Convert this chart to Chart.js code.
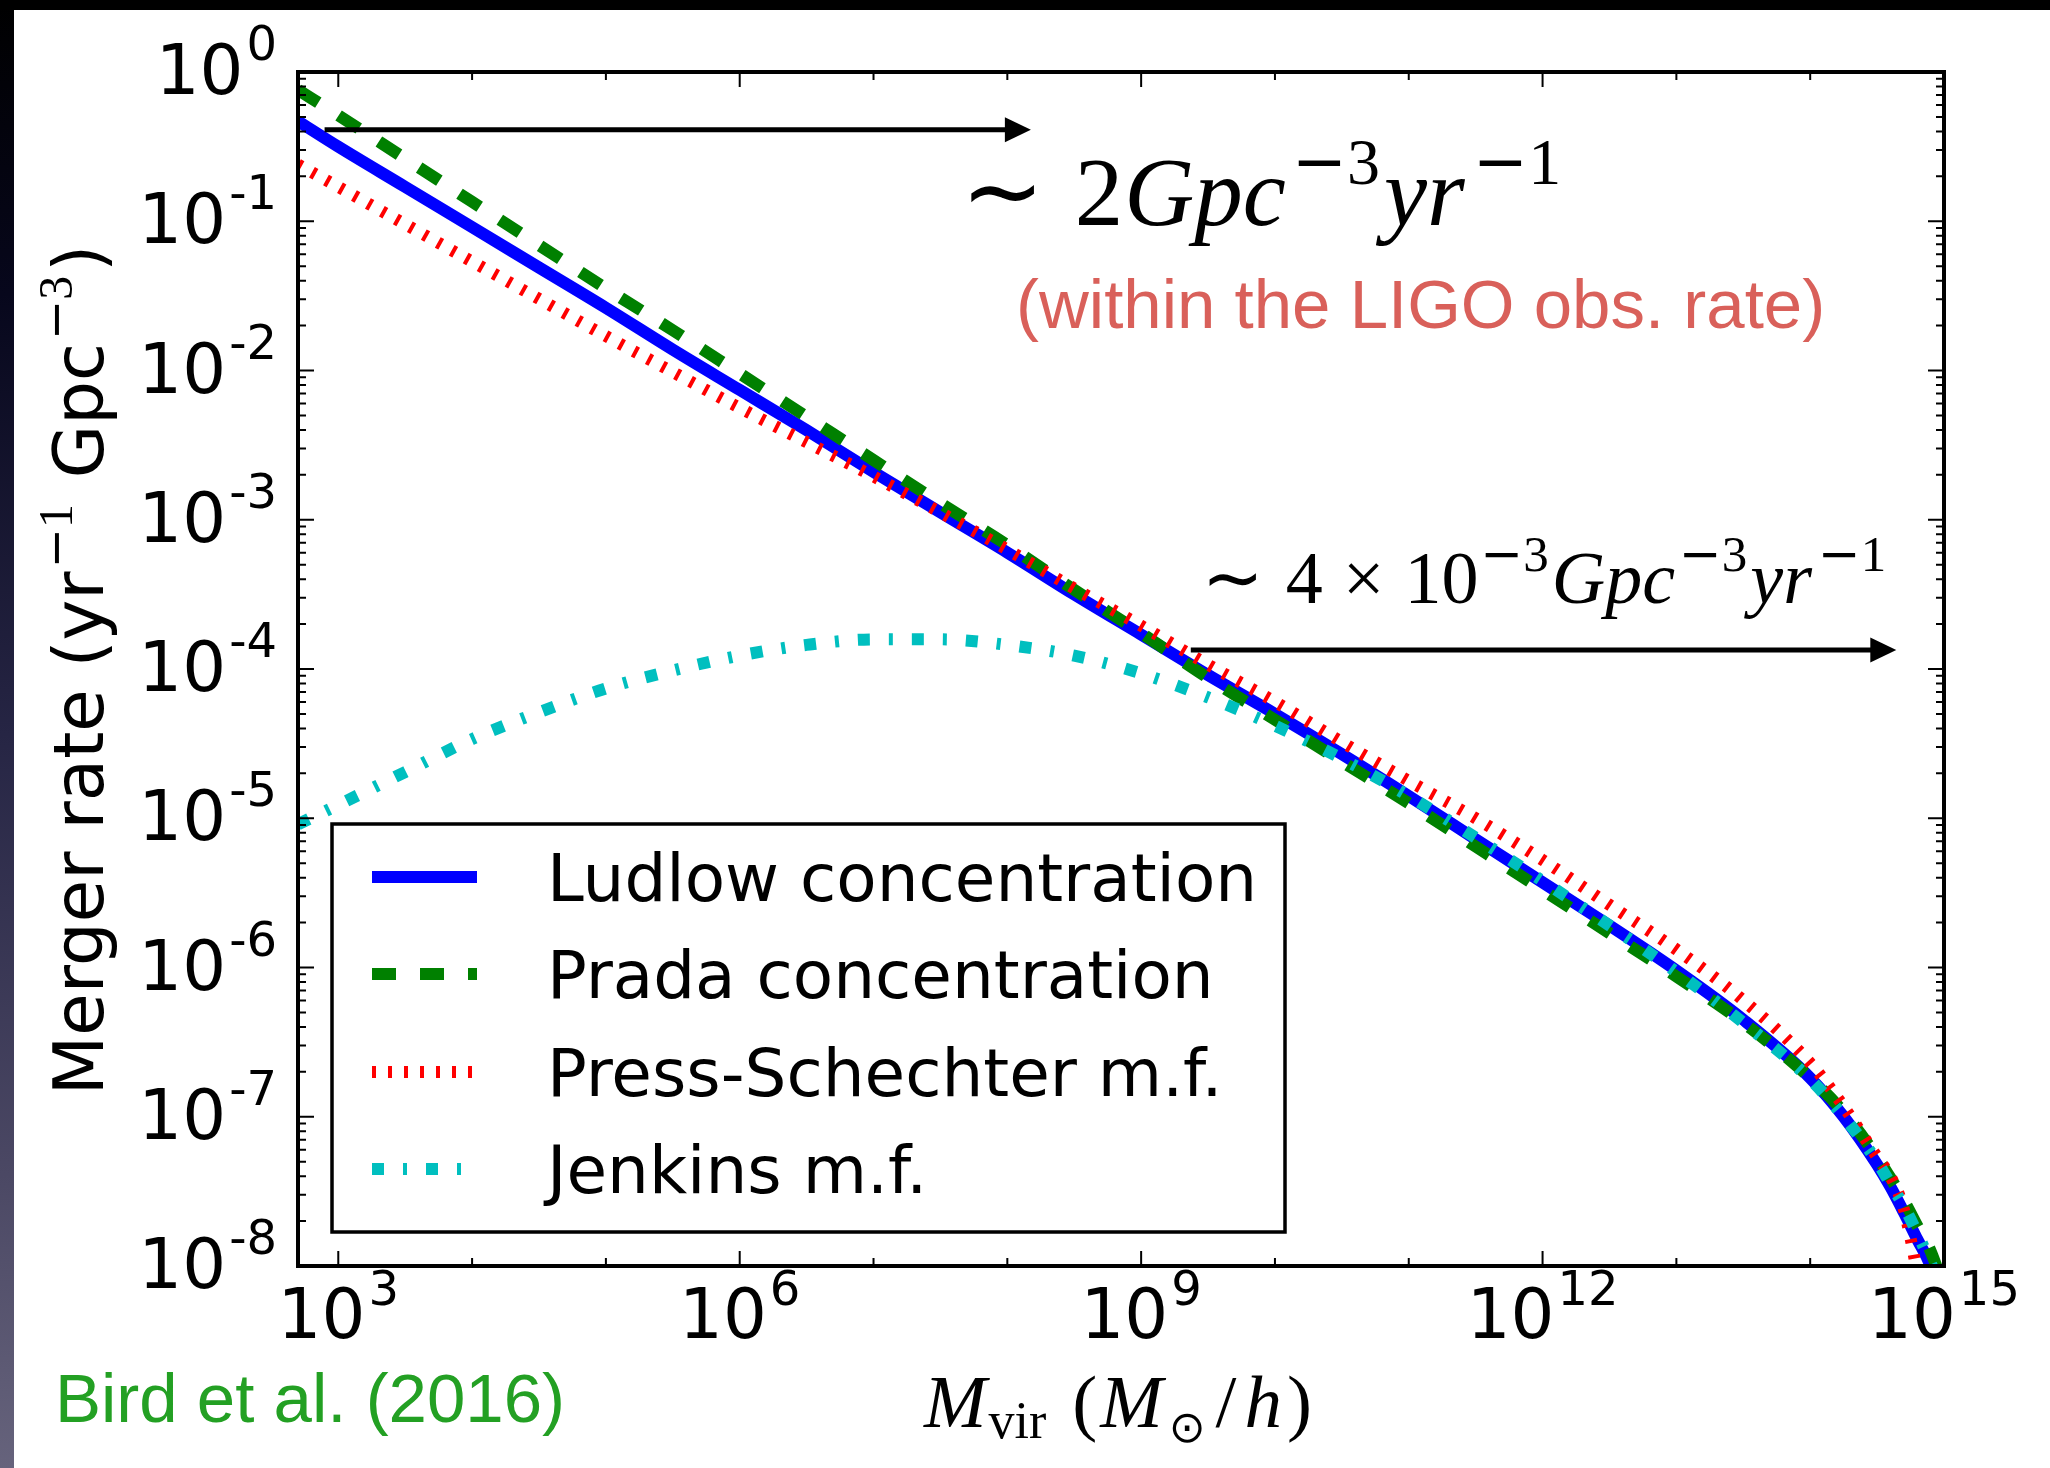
<!DOCTYPE html>
<html>
<head>
<meta charset="utf-8">
<style>
html,body{margin:0;padding:0;background:#fff;overflow:hidden}
canvas{display:block}
</style>
<script src="https://cdn.jsdelivr.net/npm/chart.js@4.4.1/dist/chart.umd.min.js"></script>
</head>
<body>
<canvas id="c" width="2050" height="1468"></canvas>
<script>
// ---------------- data ----------------
const massValues = [5.0e2, 1.0e3, 3.16e3, 1.0e4, 3.16e4, 1.0e5, 3.16e5, 1.0e6, 3.16e6, 1.0e7, 3.16e7, 1.0e8, 3.16e8, 1.0e9, 3.16e9, 1.0e10, 3.16e10, 1.0e11, 3.16e11, 1.0e12, 3.16e12, 1.0e13, 3.16e13, 1.0e14, 1.78e14, 3.16e14, 3.98e14, 5.01e14, 6.31e14, 7.94e14, 1.0e15];
const ludlowRate = [0.468, 0.316, 0.170, 0.0912, 0.0490, 0.0263, 0.0138, 7.41e-3, 3.98e-3, 2.09e-3, 1.12e-3, 6.03e-4, 3.16e-4, 1.70e-4, 9.12e-5, 5.01e-5, 2.69e-5, 1.41e-5, 7.24e-6, 3.72e-6, 1.91e-6, 9.55e-7, 4.47e-7, 1.82e-7, 1.00e-7, 4.79e-8, 3.39e-8, 2.29e-8, 1.51e-8, 1.00e-8, 5.01e-9];
const pradaRate = [0.759, 0.513, 0.263, 0.135, 0.0692, 0.0355, 0.0186, 9.55e-3, 4.90e-3, 2.51e-3, 1.29e-3, 6.76e-4, 3.39e-4, 1.74e-4, 8.71e-5, 4.57e-5, 2.40e-5, 1.26e-5, 6.46e-6, 3.31e-6, 1.70e-6, 8.71e-7, 4.27e-7, 1.82e-7, 1.07e-7, 5.37e-8, 3.89e-8, 2.75e-8, 1.86e-8, 1.26e-8, 7.08e-9];
const pressSchechterRate = [0.240, 0.170, 0.0955, 0.0537, 0.0302, 0.0170, 9.77e-3, 5.62e-3, 3.31e-3, 1.95e-3, 1.12e-3, 6.31e-4, 3.47e-4, 1.95e-4, 1.07e-4, 6.03e-5, 3.24e-5, 1.78e-5, 1.00e-5, 5.25e-6, 2.63e-6, 1.32e-6, 6.03e-7, 2.29e-7, 1.17e-7, 5.37e-8, 3.98e-8, 2.40e-8, 8.91e-9, 2.51e-9, null];
const jenkinsRate = [9.12e-6, 1.23e-5, 2.04e-5, 3.39e-5, 5.13e-5, 7.41e-5, 9.77e-5, 1.23e-4, 1.45e-4, 1.58e-4, 1.58e-4, 1.45e-4, 1.23e-4, 9.33e-5, 6.46e-5, 4.17e-5, 2.51e-5, 1.41e-5, 7.41e-6, 3.80e-6, 1.91e-6, 9.33e-7, 4.27e-7, 1.78e-7, 1.00e-7, 5.01e-8, 3.55e-8, 2.51e-8, 1.66e-8, 1.05e-8, 6.31e-9];

const seriesNames = ['Ludlow concentration', 'Prada concentration', 'Press-Schechter m.f.', 'Jenkins m.f.'];

// arrows (data coordinates)
const arrowFromMass = [7.9e2, 2.35e9];
const arrowToMass = [1.5e8, 4.4e14];
const arrowRate = [0.41, 1.34e-4];

// axes
const xMin = 5.0e2, xMax = 1.0e15, yMin = 1e-8, yMax = 1;
const xDecadeExps = [3, 4, 5, 6, 7, 8, 9, 10, 11, 12, 13, 14, 15];
const xLabelExps = ['3', '6', '9', '12', '15'];
const yLabelExps = ['0', '-1', '-2', '-3', '-4', '-5', '-6', '-7', '-8'];

// ---------------- drawing ----------------
const W = 2050, H = 1468;
const SANS = '"DejaVu Sans", sans-serif';
const SERIF = '"Liberation Serif", "DejaVu Serif", serif';
const HELV = '"Liberation Sans", Arial, sans-serif';

function pts(vals) {
  const out = [];
  massValues.forEach((m, i) => { if (vals[i] !== null) out.push({x: m, y: vals[i]}); });
  return out;
}

function runsWidth(ctx, runs) {
  let w = 0;
  for (const r of runs) { ctx.font = r.font; w += ctx.measureText(r.t).width + (r.gap || 0); }
  return w;
}
function drawRuns(ctx, runs, x, y, align) {
  const w = runsWidth(ctx, runs);
  let cx = align === 'center' ? x - w / 2 : (align === 'right' ? x - w : x);
  ctx.textAlign = 'left';
  ctx.textBaseline = 'alphabetic';
  for (const r of runs) {
    ctx.font = r.font;
    ctx.fillText(r.t, cx, y + (r.dy || 0));
    cx += ctx.measureText(r.t).width + (r.gap || 0);
  }
}
function supMinus(d, size, raise, gap) {
  return [
    {t: '\u2212', font: `${size}px ${SANS}`, dy: -raise},
    {t: d, font: `${size}px ${SERIF}`, dy: -raise, gap: gap === undefined ? 2 : gap}
  ];
}

const decor = {
  id: 'decor',
  beforeDraw(chart) {
    const ctx = chart.ctx;
    ctx.save();
    ctx.fillStyle = '#ffffff';
    ctx.fillRect(0, 0, W, H);
    const g = ctx.createLinearGradient(0, 0, 0, H);
    g.addColorStop(0, '#000000');
    g.addColorStop(0.2, '#07071c');
    g.addColorStop(0.5, '#262544');
    g.addColorStop(0.8, '#4b4864');
    g.addColorStop(1, '#66637c');
    ctx.fillStyle = g;
    ctx.fillRect(0, 0, 14, H);
    ctx.fillStyle = '#000000';
    ctx.fillRect(0, 0, W, 10);
    ctx.restore();
  },
  afterDraw(chart) {
    const ctx = chart.ctx;
    const xs = chart.scales.x, ys = chart.scales.y;
    const a = chart.chartArea;
    ctx.save();

    // arrows
    ctx.strokeStyle = '#000'; ctx.fillStyle = '#000'; ctx.lineWidth = 5; ctx.lineCap = 'butt';
    for (let i = 0; i < arrowRate.length; i++) {
      const x0 = xs.getPixelForValue(arrowFromMass[i]);
      const x1 = xs.getPixelForValue(arrowToMass[i]);
      const yy = ys.getPixelForValue(arrowRate[i]);
      ctx.beginPath(); ctx.moveTo(x0, yy); ctx.lineTo(x1 - 20, yy); ctx.stroke();
      ctx.beginPath(); ctx.moveTo(x1, yy); ctx.lineTo(x1 - 26, yy - 12.5); ctx.lineTo(x1 - 26, yy + 12.5); ctx.closePath(); ctx.fill();
    }

    // ticks (inward, all four sides)
    ctx.strokeStyle = '#000'; ctx.lineWidth = 2;
    ctx.beginPath();
    xDecadeExps.forEach(e => {
      const px = xs.getPixelForValue(Math.pow(10, e));
      const major = xLabelExps.includes(String(e));
      const len = major ? 15 : 8;
      ctx.moveTo(px, a.bottom); ctx.lineTo(px, a.bottom - len);
      ctx.moveTo(px, a.top); ctx.lineTo(px, a.top + len);
    });
    yLabelExps.forEach(s => {
      const e = Number(s);
      const py = ys.getPixelForValue(Math.pow(10, e));
      ctx.moveTo(a.left, py); ctx.lineTo(a.left + 16, py);
      ctx.moveTo(a.right, py); ctx.lineTo(a.right - 16, py);
      if (e > -8) {
        for (let k = 2; k <= 9; k++) {
          const pm = ys.getPixelForValue(k * Math.pow(10, e - 1));
          ctx.moveTo(a.left, pm); ctx.lineTo(a.left + 8, pm);
          ctx.moveTo(a.right, pm); ctx.lineTo(a.right - 8, pm);
        }
      }
    });
    ctx.stroke();

    // frame
    ctx.lineWidth = 4;
    ctx.strokeRect(a.left, a.top, a.right - a.left, a.bottom - a.top);

    // tick labels
    ctx.fillStyle = '#000';
    xLabelExps.forEach(s => {
      const px = xs.getPixelForValue(Math.pow(10, Number(s)));
      drawRuns(ctx, [{t: '10', font: `69px ${SANS}`, gap: 3}, {t: s, font: `48px ${SANS}`, dy: -33}], px, 1338, 'center');
    });
    yLabelExps.forEach(s => {
      const py = ys.getPixelForValue(Math.pow(10, Number(s)));
      drawRuns(ctx, [{t: '10', font: `69px ${SANS}`, gap: 3}, {t: s, font: `48px ${SANS}`, dy: -34}], 277, py + 22, 'right');
    });

    // axis titles
    drawRuns(ctx, [
      {t: 'M', font: `italic 75px ${SERIF}`, gap: 2},
      {t: 'vir', font: `52px ${SERIF}`, dy: 11, gap: 26},
      {t: '(', font: `75px ${SERIF}`, gap: 3},
      {t: 'M', font: `italic 75px ${SERIF}`, gap: 6},
      {t: '\u2299', font: `44px ${SANS}`, dy: 15, gap: 10},
      {t: '/', font: `75px ${SERIF}`, gap: 8},
      {t: 'h', font: `italic 75px ${SERIF}`, gap: 5},
      {t: ')', font: `75px ${SERIF}`}
    ], 1118, 1427, 'center');

    ctx.save();
    ctx.translate(103, 670);
    ctx.rotate(-Math.PI / 2);
    drawRuns(ctx, [
      {t: 'Merger rate (yr', font: `69px ${SANS}`, gap: 3},
      ...supMinus('1', 48, 31, 4),
      {t: ' Gpc', font: `69px ${SANS}`, gap: 3},
      ...supMinus('3', 48, 31, 4),
      {t: ')', font: `69px ${SANS}`}
    ], 0, 0, 'center');
    ctx.restore();

    // annotations
    drawRuns(ctx, [
      {t: '\u223C', font: `100px ${SANS}`, gap: 30},
      {t: '2', font: `97px ${SERIF}`, gap: 1},
      {t: 'Gpc', font: `italic 97px ${SERIF}`, gap: 6},
      ...supMinus('3', 66, 41, 4),
      {t: 'yr', font: `italic 97px ${SERIF}`, gap: 8},
      ...supMinus('1', 66, 41, 0)
    ], 1261, 225, 'center');
    ctx.fillStyle = '#d9605a';
    ctx.font = `69px ${HELV}`;
    ctx.textAlign = 'left';
    ctx.fillText('(within the LIGO obs. rate)', 1016, 328);

    ctx.fillStyle = '#000';
    drawRuns(ctx, [
      {t: '\u223C', font: `74px ${SANS}`, gap: 22},
      {t: '4', font: `74px ${SERIF}`, gap: 20},
      {t: '\u00D7', font: `74px ${SERIF}`, gap: 20},
      {t: '10', font: `74px ${SERIF}`, gap: 2},
      ...supMinus('3', 51, 32, 3),
      {t: 'Gpc', font: `italic 74px ${SERIF}`, gap: 4},
      ...supMinus('3', 51, 32, 3),
      {t: 'yr', font: `italic 74px ${SERIF}`, gap: 6},
      ...supMinus('1', 51, 32, 0)
    ], 1544, 603, 'center');

    ctx.fillStyle = '#23a023';
    ctx.font = `69px ${HELV}`;
    ctx.textAlign = 'left';
    ctx.fillText('Bird et al. (2016)', 55, 1422);

    // legend
    const lx = 332, ly = 824, lw = 953, lh = 408;
    ctx.fillStyle = '#fff';
    ctx.fillRect(lx, ly, lw, lh);
    ctx.strokeStyle = '#000'; ctx.lineWidth = 3.5; ctx.setLineDash([]);
    ctx.strokeRect(lx, ly, lw, lh);
    const rows = [877, 974, 1072, 1169];
    chart.data.datasets.filter(d => d.inLegend).forEach((d, i) => {
      ctx.save();
      ctx.strokeStyle = d.borderColor;
      ctx.lineWidth = d.borderWidth;
      ctx.lineCap = 'butt';
      ctx.setLineDash(d.borderDash || []);
      ctx.beginPath(); ctx.moveTo(372, rows[i]); ctx.lineTo(477, rows[i]); ctx.stroke();
      ctx.restore();
      ctx.fillStyle = '#000';
      ctx.font = `66px ${SANS}`;
      ctx.textAlign = 'left'; ctx.textBaseline = 'alphabetic';
      ctx.fillText(d.label, 547, rows[i] + 24);
    });
    ctx.restore();
  }
};

const common = {pointRadius: 0, fill: false, clip: 0, cubicInterpolationMode: 'monotone', borderCapStyle: 'butt', inLegend: true};

new Chart(document.getElementById('c'), {
  type: 'line',
  data: {
    datasets: [
      Object.assign({label: seriesNames[0], data: pts(ludlowRate), borderColor: '#0000ff', borderWidth: 12, borderDash: [], order: 4}, common),
      Object.assign({label: seriesNames[1], data: pts(pradaRate), borderColor: '#008000', borderWidth: 12, borderDash: [24, 24], order: 3}, common),
      Object.assign({label: seriesNames[2], data: pts(pressSchechterRate), borderColor: '#ff0000', borderWidth: 12, borderDash: [4, 12], order: 2}, common),
      Object.assign({label: seriesNames[3], data: pts(jenkinsRate), borderColor: '#00bfbf', borderWidth: 12, borderDash: [12, 19, 4, 19], order: 1}, common)
    ]
  },
  options: {
    responsive: false,
    animation: false,
    devicePixelRatio: 1,
    layout: {padding: {left: 298, top: 72, right: 106, bottom: 202}},
    plugins: {legend: {display: false}, tooltip: {enabled: false}},
    scales: {
      x: {type: 'logarithmic', min: xMin, max: xMax, display: false},
      y: {type: 'logarithmic', min: yMin, max: yMax, display: false}
    }
  },
  plugins: [decor]
});
</script>
</body>
</html>
